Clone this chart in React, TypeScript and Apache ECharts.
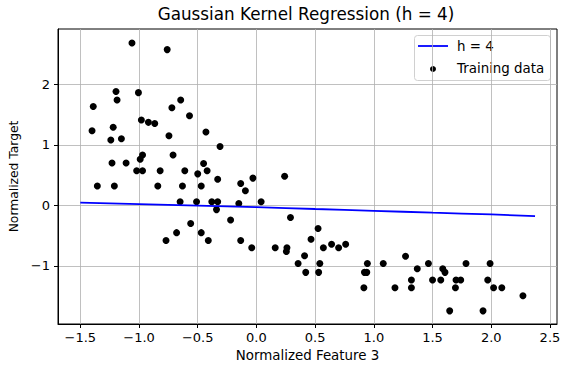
import React, { useEffect, useRef } from "react";
import * as echarts from "echarts";

const featureX = [
  -1.06, -0.76, -1.196, -1.005, -1.187, -0.645, -1.39, -0.72, -0.57, -0.98, -0.92, -0.866, -1.4, -1.22, -0.745, -0.43,
  -1.24, -1.15, -0.31, -0.97, -0.99, -0.71, -1.23, -1.11, -0.45, -1.02, -0.97, -0.82, -0.61, -0.5, -0.42,
  -1.355, -1.21, -0.84, -0.63, -0.47, -0.33, -0.65, -0.51, -0.38, -0.33, -0.34, -0.22, -0.56, -0.68, -0.47, -0.77, -0.41,
  -0.134, -0.03, -0.094, -0.15, 0.04, 0.24, 0.29, -0.134, -0.04, 0.16, 0.26, 0.255, 0.525, 0.465, 0.57, 0.64, 0.7, 0.76,
  0.41, 0.355, 0.54, 0.42, 0.53, 0.945, 1.08, 0.92, 0.94, 0.915, 1.18,
  1.27, 1.37, 1.32, 1.32, 1.465, 1.5, 1.57, 1.587, 1.606, 1.785, 1.7, 1.74, 1.695, 1.646, 1.93, 1.99, 1.97, 2.02, 2.09, 2.27,
];
const targetY = [
  2.68, 2.57, 1.88, 1.86, 1.74, 1.74, 1.63, 1.61, 1.48, 1.41, 1.37, 1.35, 1.23, 1.29, 1.15, 1.21,
  1.08, 1.1, 0.97, 0.83, 0.76, 0.83, 0.7, 0.7, 0.69, 0.57, 0.57, 0.57, 0.57, 0.52, 0.57,
  0.32, 0.32, 0.32, 0.32, 0.32, 0.43, 0.06, 0.06, 0.06, 0.06, -0.07, -0.24, -0.3, -0.45, -0.45, -0.58, -0.58,
  0.36, 0.45, 0.24, 0.03, 0.06, 0.48, -0.2, -0.58, -0.7, -0.7, -0.7, -0.76, -0.38, -0.56, -0.7, -0.64, -0.7, -0.64,
  -0.83, -0.96, -0.96, -1.105, -1.105, -0.96, -0.96, -1.105, -1.105, -1.36, -1.36,
  -0.84, -1.045, -1.23, -1.36, -0.96, -1.23, -1.23, -1.045, -1.105, -0.96, -1.23, -1.23, -1.36, -1.74, -1.74, -0.96, -1.23, -1.36, -1.36, -1.49,
];
const curveX = [-1.5, -1.0, -0.5, 0.0, 0.5, 1.0, 1.5, 2.0, 2.373];
const curveY = [0.045, 0.02, -0.005, -0.03, -0.06, -0.09, -0.12, -0.15, -0.178];
const xTicks = [-1.5, -1.0, -0.5, 0.0, 0.5, 1.0, 1.5, 2.0, 2.5];
const yTicks = [-1, 0, 1, 2];

const FONT = "DejaVu Sans";
const fmt = (v: number, d: number) => v.toFixed(d).replace("-", "\u2212");

export default function App() {
  const ref = useRef<HTMLDivElement>(null);
  useEffect(() => {
    if (!ref.current) return;
    const chart = echarts.init(ref.current, null, { renderer: "svg" });
    const scatterData = featureX.map((x, i) => [x, targetY[i]]);
    const lineData = curveX.map((x, i) => [x, curveY[i]]);
    chart.setOption({
      animation: false,
      backgroundColor: "#fff",
      textStyle: { fontFamily: FONT },
      grid: {
        left: 58,
        right: 11,
        top: 29,
        bottom: 45,
        show: true,
        borderColor: "#000",
        borderWidth: 1,
        outerBoundsMode: "none",
      },
      xAxis: {
        type: "value",
        min: -1.69,
        max: 2.56,
        name: "Normalized Feature 3",
        nameLocation: "middle",
        nameGap: 24,
        nameTextStyle: { fontSize: 13.4, color: "#000", fontFamily: FONT },
        axisLine: { show: true, onZero: false, lineStyle: { color: "#000" } },
        axisTick: { show: true, inside: false, length: 4, lineStyle: { color: "#000" }, customValues: xTicks },
        axisLabel: {
          show: true,
          customValues: xTicks,
          fontSize: 13,
          color: "#000",
          margin: 7,
          fontFamily: FONT,
          formatter: (v: number) => fmt(v, 1),
        },
        splitLine: { show: true, lineStyle: { color: "#b0b0b0", width: 0.8 } },
      },
      yAxis: {
        type: "value",
        min: -1.957,
        max: 2.91,
        name: "Normalized Target",
        nameLocation: "middle",
        nameGap: 36,
        nameRotate: 90,
        nameTextStyle: { fontSize: 12.3, color: "#000", fontFamily: FONT },
        axisLine: { show: true, onZero: false, lineStyle: { color: "#000" } },
        axisTick: { show: true, inside: false, length: 4, lineStyle: { color: "#000" }, customValues: yTicks },
        axisLabel: {
          show: true,
          customValues: yTicks,
          fontSize: 13,
          color: "#000",
          margin: 8,
          fontFamily: FONT,
          formatter: (v: number) => fmt(v, 0),
        },
        splitLine: { show: true, lineStyle: { color: "#b0b0b0", width: 0.8 } },
      },
      graphic: [
        {
          type: "text",
          x: 306,
          y: 14,
          style: {
            text: "Gaussian Kernel Regression (h = 4)",
            fontSize: 16.8,
            fontFamily: FONT,
            fill: "#000",
            textAlign: "center",
            textVerticalAlign: "middle",
          },
        },
        {
          type: "group",
          z: 100,
          children: [
            {
              type: "rect",
              shape: { x: 414.5, y: 35.5, width: 136, height: 45, r: 3 },
              style: { fill: "rgba(255,255,255,0.8)", stroke: "#d0d0d0", lineWidth: 1 },
            },
            {
              type: "line",
              shape: { x1: 418, y1: 46, x2: 448, y2: 46 },
              style: { stroke: "#0000ff", lineWidth: 1.8 },
            },
            {
              type: "text",
              x: 457,
              y: 46,
              style: { text: "h = 4", fontSize: 13.4, fontFamily: FONT, fill: "#000", textVerticalAlign: "middle" },
            },
            {
              type: "circle",
              shape: { cx: 433, cy: 69, r: 3 },
              style: { fill: "#000" },
            },
            {
              type: "text",
              x: 457,
              y: 68,
              style: { text: "Training data", fontSize: 13.4, fontFamily: FONT, fill: "#000", textVerticalAlign: "middle" },
            },
          ],
        },
      ],
      series: [
        {
          name: "Training data",
          type: "scatter",
          data: scatterData,
          symbol: "circle",
          symbolSize: 7,
          itemStyle: { color: "#000", opacity: 1 },
          z: 2,
        },
        {
          name: "h = 4",
          type: "line",
          data: lineData,
          showSymbol: false,
          symbol: "none",
          smooth: true,
          lineStyle: { color: "#0000ff", width: 1.8 },
          z: 3,
        },
      ],
    });
    return () => chart.dispose();
  }, []);
  return <div ref={ref} style={{ position: "fixed", left: 0, top: 0, width: 568, height: 369 }} />;
}
